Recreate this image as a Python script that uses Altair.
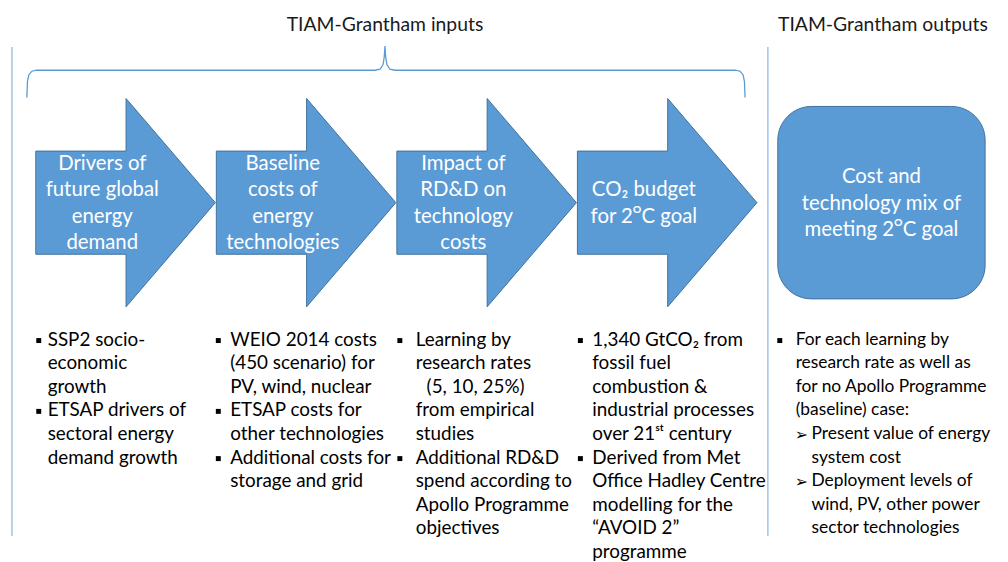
import altair as alt
import pandas as pd

# ---------------- content ----------------
TITLE_INPUTS = "TIAM-Grantham inputs"
TITLE_OUTPUTS = "TIAM-Grantham outputs"

ARROW_LABELS = [
    ["Drivers of", "future global", "energy", "demand"],
    ["Baseline", "costs of", "energy", "technologies"],
    ["Impact of", "RD&D on", "technology", "costs"],
    ["CO\u2082 budget", "for 2\u1d3cC goal"],
]
OUTPUT_LABEL = ["Cost and", "technology mix of", "meeting 2\u1d3cC goal"]

COL1 = [["SSP2 socio-", "economic", "growth"],
        ["ETSAP drivers of", "sectoral energy", "demand growth"]]
COL2 = [["WEIO 2014 costs", "(450 scenario) for", "PV, wind, nuclear"],
        ["ETSAP costs for", "other technologies"],
        ["Additional costs for", "storage and grid"]]
COL3 = [["Learning by", "research rates", "\u00a0(5, 10, 25%)", "from empirical", "studies"],
        ["Additional RD&D", "spend according to", "Apollo Programme", "objectives"]]
COL4 = [["1,340 GtCO\u2082 from", "fossil fuel", "combustion &", "industrial processes",
         "over 21\u02e2\u1d57 century"],
        ["Derived from Met", "Office Hadley Centre", "modelling for the",
         "\u201cAVOID 2\u201d", "programme"]]
COL5 = [["For each learning by", "research rate as well as",
         "for no Apollo Programme", "(baseline) case:"]]
COL5_SUB = [["Present value of energy", "system cost"],
            ["Deployment levels of", "wind, PV, other power", "sector technologies"]]

# ---------------- layout (pixel space of the picture) ----------------
ARROW_LEFT = [36, 218, 400, 582]
BODY_W, HEAD_W = 91, 90
BODY_TOP, BODY_BOT, HEAD_TOP, HEAD_BOT, MID = 150, 254, 97, 307, 202
TEXT_MID, TEXT_LH = 203, 26.7
BOX = dict(x=784, x2=993, y=105, y2=299)
COL_X = [(39, 48), (220, 232), (403, 419), (585, 597), (786, 802)]
LIST_TOP, LIST_LH = 340, 23.8
INDENT = 11
FONT = "Lato"
BLUE, EDGE, GUIDE = "#5b9bd5", "#41719c", "#9dc3e6"
W, H = 1000, 554

# arrows as area polygons (x sorted; head base nudged so the step is vertical)
arows = []
for i, L in enumerate(ARROW_LEFT):
    pts = [(L, BODY_TOP, BODY_BOT), (L + BODY_W, BODY_TOP, BODY_BOT),
           (L + BODY_W + 0.01, HEAD_TOP, HEAD_BOT), (L + BODY_W + HEAD_W, MID, MID)]
    for k, (x, y, y2) in enumerate(pts):
        arows.append(dict(a=i, k=k, x=x, y=y, y2=y2))
arrow_df = pd.DataFrame(arows)

# white labels
wl = []
for i, lines in enumerate(ARROW_LABELS):
    n = len(lines)
    for j, t in enumerate(lines):
        wl.append(dict(x=ARROW_LEFT[i] + 67, y=TEXT_MID + (j - (n - 1) / 2) * TEXT_LH, t=t))
n = len(OUTPUT_LABEL)
for j, t in enumerate(OUTPUT_LABEL):
    wl.append(dict(x=(BOX["x"] + BOX["x2"]) / 2, y=TEXT_MID + (j - (n - 1) / 2) * TEXT_LH, t=t))
white_df = pd.DataFrame(wl)

# bullet lists (column index c kept so the last column can use a smaller size)
bl, sq, sub = [], [], []
for c, col in enumerate([COL1, COL2, COL3, COL4, COL5]):
    row = 0
    bx, tx = COL_X[c]
    for item in col:
        sq.append(dict(x=bx, y=LIST_TOP + row * LIST_LH + 1))
        for t in item:
            ind = INDENT if t.startswith("\u00a0") else 0
            bl.append(dict(x=tx + ind, y=LIST_TOP + row * LIST_LH, t=t.strip("\u00a0"), c=c))
            row += 1
    if c == 4:
        for item in COL5_SUB:
            sub.append(dict(x=801, y=LIST_TOP + row * LIST_LH + 1, t="\u27a2"))
            for t in item:
                bl.append(dict(x=818, y=LIST_TOP + row * LIST_LH, t=t, c=c))
                row += 1
bullet_df = pd.DataFrame(bl)
square_df = pd.DataFrame(sq)
sub_df = pd.DataFrame(sub)

titles_df = pd.DataFrame([dict(x=388, y=23, t=TITLE_INPUTS), dict(x=890, y=23, t=TITLE_OUTPUTS)])

guides_df = pd.DataFrame([dict(x=12, y=45, y2=538), dict(x=774, y=45, y2=538)])

brace_pts = [(27, 96), (27.6, 80), (29, 73), (32, 69.5), (37, 68.5), (378, 68.5), (383, 67.5),
             (386, 63), (387.3, 55), (388, 44), (388.7, 55), (390, 63), (393, 67.5), (398, 68.5),
             (741, 68.5), (746, 69.5), (749, 73), (750.4, 80), (751, 96)]
brace_df = pd.DataFrame([dict(k=k, x=x, y=y) for k, (x, y) in enumerate(brace_pts)])

xs = alt.Scale(domain=[8, 8 + W], nice=False, zero=False)
ys = alt.Scale(domain=[8, 8 + H], nice=False, zero=False, reverse=True)
X = lambda f="x": alt.X(f, type="quantitative", scale=xs, axis=None)
Y = lambda f="y": alt.Y(f, type="quantitative", scale=ys, axis=None)

guides = alt.Chart(guides_df).mark_rule(color=GUIDE, strokeWidth=1.5).encode(
    x=X(), y=Y(), y2="y2")
brace = alt.Chart(brace_df).mark_line(color=BLUE, strokeWidth=1.3, interpolate="linear").encode(
    x=X(), y=Y(), order="k:Q")
arrows = alt.Chart(arrow_df).mark_area(color=BLUE, fill=BLUE, stroke=EDGE, strokeWidth=1,
                                       opacity=1, fillOpacity=1, orient="vertical").encode(
    x=X(), y=Y(), y2="y2", detail="a:N")
box = alt.Chart(pd.DataFrame([BOX])).mark_rect(fill=BLUE, stroke=EDGE, strokeWidth=1,
                                                 cornerRadius=34).encode(
    x=X(), x2="x2", y=Y(), y2="y2")
white = alt.Chart(white_df).mark_text(color="white", font=FONT, fontSize=20.5, baseline="middle",
                                       align="center").encode(x=X(), y=Y(), text="t:N")
titles = alt.Chart(titles_df).mark_text(color="#1a1a1a", font=FONT, fontSize=19.5, baseline="middle",
                                         align="center").encode(x=X(), y=Y(), text="t:N")
squares = alt.Chart(square_df).mark_square(color="black", size=25, opacity=1).encode(x=X(), y=Y())
bullets = alt.Chart(bullet_df).transform_filter("datum.c < 4").mark_text(
    color="black", font=FONT, fontSize=19, baseline="middle", align="left").encode(
    x=X(), y=Y(), text="t:N")
bullets5 = alt.Chart(bullet_df).transform_filter("datum.c == 4").mark_text(
    color="black", font=FONT, fontSize=17.5, baseline="middle", align="left").encode(
    x=X(), y=Y(), text="t:N")
subs = alt.Chart(sub_df).mark_text(color="black", font="DejaVu Sans", fontSize=16, baseline="middle",
                                    align="left").encode(x=X(), y=Y(), text="t:N")

chart = alt.layer(guides, brace, arrows, box, white, titles, squares, bullets, bullets5,
                  subs).properties(
    width=W, height=H, padding=0, autosize=alt.AutoSizeParams(type="none"),
    background="white"
).configure_view(stroke=None)

chart.save("out.html", embed_options={"renderer": "svg", "actions": False})
